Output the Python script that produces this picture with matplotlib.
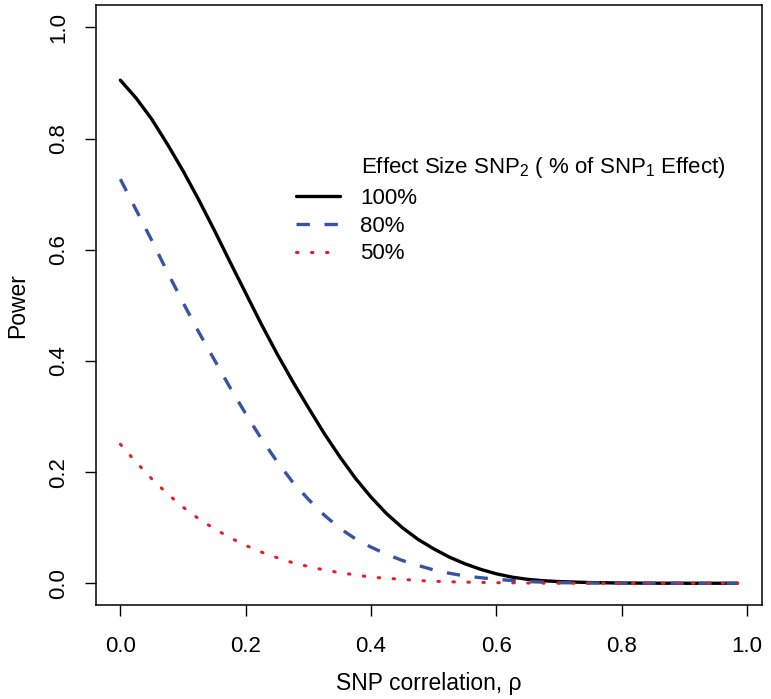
import numpy as np
import matplotlib
matplotlib.use("Agg")
import matplotlib.pyplot as plt

plt.rcParams['font.family'] = ['Liberation Sans', 'DejaVu Sans']
plt.rcParams['mathtext.fontset'] = 'custom'
plt.rcParams['mathtext.rm'] = 'Liberation Sans'

# SNP correlation (rho) and power
rho = [0.0, 0.025, 0.05, 0.075, 0.1, 0.125, 0.15, 0.175, 0.2, 0.225, 0.25,
       0.275, 0.3, 0.325, 0.35, 0.375, 0.4, 0.425, 0.45, 0.475, 0.5, 0.525,
       0.55, 0.575, 0.6, 0.625, 0.65, 0.675, 0.7, 0.75, 0.8, 0.85, 0.9, 0.95,
       0.985]
power_100 = [0.905, 0.873, 0.835, 0.79, 0.742, 0.69, 0.635, 0.578, 0.522,
             0.466, 0.413, 0.363, 0.316, 0.27, 0.228, 0.189, 0.155, 0.125,
             0.1, 0.079, 0.062, 0.047, 0.035, 0.025, 0.017, 0.011, 0.007,
             0.0045, 0.003, 0.0012, 0.0004, 0.0001, 0.0, 0.0, 0.0]
power_80 = [0.727, 0.672, 0.617, 0.56, 0.505, 0.452, 0.402, 0.352, 0.305,
            0.26, 0.219, 0.182, 0.151, 0.123, 0.099, 0.08, 0.065, 0.052,
            0.041, 0.032, 0.024, 0.018, 0.013, 0.01, 0.007, 0.005, 0.003,
            0.002, 0.001, 0.0005, 0.0, 0.0, 0.0, 0.0, 0.0]
power_50 = [0.25, 0.218, 0.188, 0.161, 0.137, 0.116, 0.098, 0.082, 0.068,
            0.056, 0.046, 0.037, 0.03, 0.024, 0.019, 0.015, 0.011, 0.009,
            0.007, 0.005, 0.0035, 0.0027, 0.002, 0.0015, 0.001, 0.0007,
            0.0004, 0.0002, 0.0001, 0.0, 0.0, 0.0, 0.0, 0.0, 0.0]
labels = ['100%', '80%', '50%']

fig = plt.figure(figsize=(7.71, 6.99), dpi=100)
ax = fig.add_axes([0.1241, 0.1338, 0.9879 - 0.1241, 0.9926 - 0.1338])

l1, = ax.plot(rho, power_100, color='black', lw=2.4, solid_capstyle='round')
l2, = ax.plot(rho, power_80, color='#3953a4', lw=2.4, dashes=(4, 4.4))
l3, = ax.plot(rho, power_50, color='#ec1c24', lw=2.2, dashes=(0.5, 4.4),
              dash_capstyle='round')

ax.set_xlim(-0.0394, 1.0235)
ax.set_ylim(-0.04, 1.04)
ticks = np.arange(0, 1.01, 0.2)
ax.set_xticks(ticks)
ax.set_yticks(ticks)
ax.set_xticklabels(['%.1f' % v for v in ticks])
ax.set_yticklabels(['%.1f' % v for v in ticks], rotation=90, va='center')
ax.tick_params(direction='out', length=8, width=1, labelsize=16)
ax.tick_params(axis='x', pad=14)
ax.tick_params(axis='y', pad=11)
for s in ax.spines.values():
    s.set_linewidth(1.1)

ax.set_xlabel('SNP correlation, ρ', fontsize=16.5, labelpad=11)
ax.set_ylabel('Power', fontsize=16.5, labelpad=14)

leg = ax.legend([l1, l2, l3], labels, loc='upper left',
                bbox_to_anchor=(296 / 771, 1 - 188 / 699),
                bbox_transform=fig.transFigure, frameon=False,
                fontsize=16, handlelength=2.0, handletextpad=0.9,
                labelspacing=0.3, borderpad=0, borderaxespad=0)
fig.text(361 / 771, 1 - 167 / 699,
         r'Effect Size SNP$_{\mathregular{2}}$ ( % of SNP$_{\mathregular{1}}$ Effect)',
         fontsize=16, va='center', ha='left')

fig.savefig('out.png', dpi=100)
